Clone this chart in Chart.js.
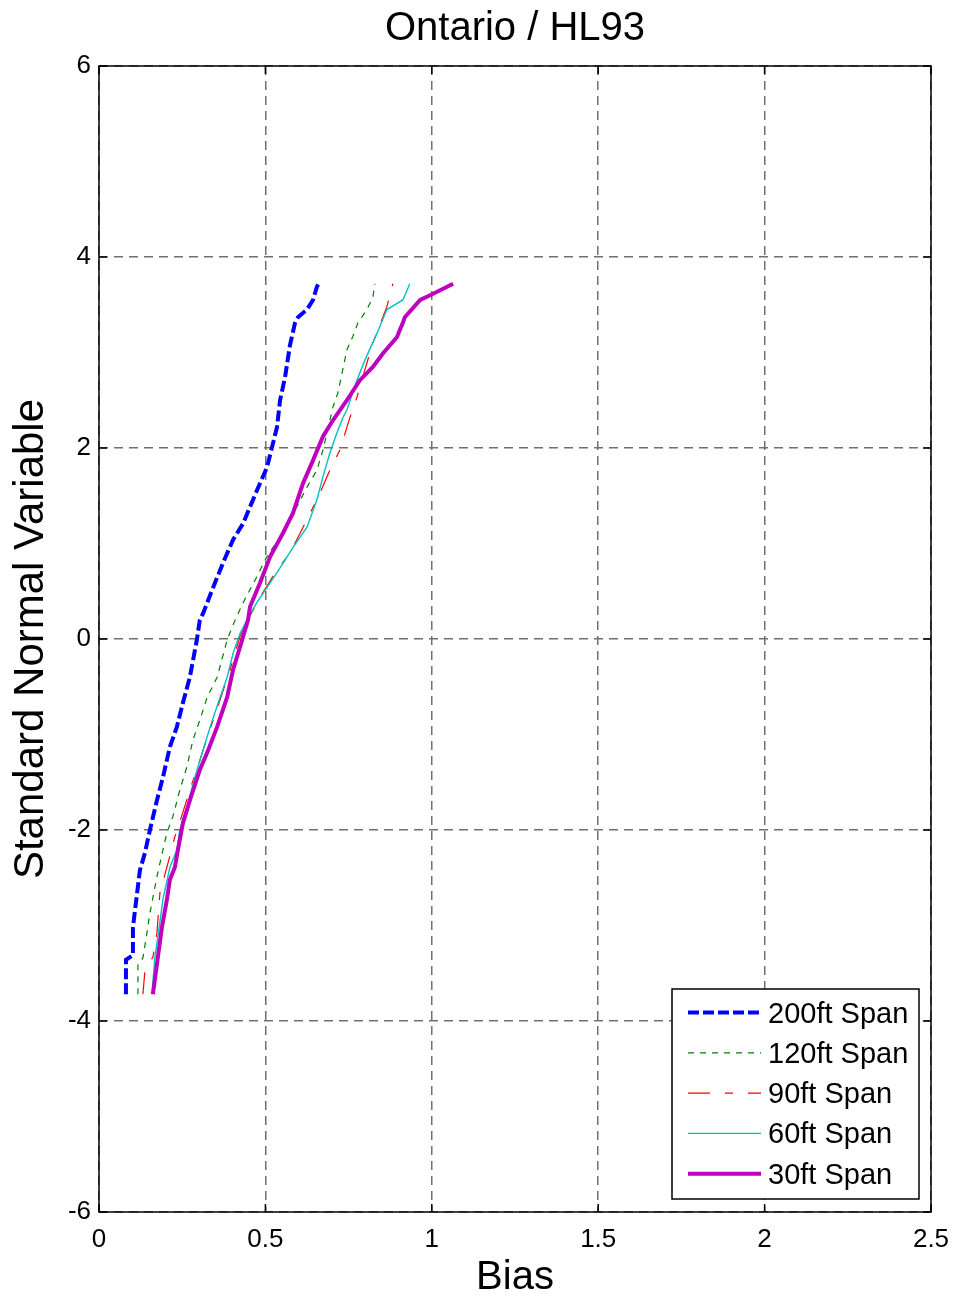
<!doctype html>
<html lang="en">
  <head>
    <meta charset="utf-8">
    <title>Ontario / HL93</title>
    <style>
      * {
        margin: 0;
        padding: 0;
      }
      body {
        background: #fff;
      }
    </style>
  </head>
  <body>
    <canvas id="myChart" width="956" height="1302"></canvas>
    <script src="https://cdn.jsdelivr.net/npm/chart.js/dist/chart.umd.min.js"></script>
    <script>
    // setup
    const xTicks = [0, 0.5, 1, 1.5, 2, 2.5];
    const yTicks = [-6, -4, -2, 0, 2, 4, 6];

    const labels = ['200ft Span', '120ft Span', '90ft Span', '60ft Span', '30ft Span'];

    // bias (x) vs standard normal variable (y), one pair of arrays per span
    const bias200 = [0.081, 0.081, 0.102, 0.102, 0.111, 0.123, 0.138, 0.153, 0.174, 0.192, 0.213, 0.234, 0.252, 0.273, 0.294, 0.303, 0.313, 0.343, 0.373, 0.403, 0.433, 0.475, 0.505, 0.520, 0.535, 0.544, 0.559, 0.574, 0.589, 0.598, 0.625, 0.643, 0.655, 0.660];
    const snv200  = [-3.72, -3.36, -3.31, -3.02, -2.76, -2.42, -2.24, -2.00, -1.69, -1.45, -1.13, -0.92, -0.67, -0.40, -0.01, 0.20, 0.27, 0.54, 0.80, 1.04, 1.21, 1.56, 1.80, 2.01, 2.22, 2.50, 2.74, 3.08, 3.31, 3.37, 3.45, 3.55, 3.69, 3.72];

    const bias120 = [0.117, 0.117, 0.132, 0.144, 0.153, 0.174, 0.192, 0.204, 0.222, 0.243, 0.264, 0.282, 0.303, 0.325, 0.355, 0.385, 0.403, 0.433, 0.474, 0.504, 0.544, 0.574, 0.625, 0.655, 0.673, 0.703, 0.718, 0.745, 0.763, 0.778, 0.805, 0.823, 0.829];
    const snv120  = [-3.72, -3.41, -3.34, -3.08, -2.87, -2.49, -2.21, -2.03, -1.86, -1.58, -1.34, -1.06, -0.85, -0.61, -0.40, -0.01, 0.15, 0.38, 0.65, 0.86, 1.07, 1.25, 1.59, 1.77, 1.98, 2.43, 2.58, 3.03, 3.17, 3.31, 3.45, 3.58, 3.72];

    const bias90 = [0.132, 0.138, 0.162, 0.174, 0.183, 0.207, 0.228, 0.248, 0.273, 0.303, 0.329, 0.354, 0.394, 0.424, 0.474, 0.534, 0.574, 0.625, 0.664, 0.694, 0.724, 0.754, 0.775, 0.799, 0.823, 0.865, 0.883];
    const snv90  = [-3.72, -3.47, -3.33, -3.08, -2.66, -2.35, -2.07, -1.86, -1.58, -1.27, -0.99, -0.74, -0.32, 0.03, 0.38, 0.72, 0.90, 1.25, 1.53, 1.77, 1.98, 2.32, 2.53, 2.82, 3.10, 3.48, 3.72];

    const bias60 = [0.159, 0.168, 0.177, 0.192, 0.213, 0.234, 0.243, 0.264, 0.288, 0.313, 0.334, 0.358, 0.385, 0.403, 0.424, 0.445, 0.474, 0.534, 0.583, 0.625, 0.655, 0.673, 0.694, 0.715, 0.733, 0.745, 0.775, 0.799, 0.835, 0.865, 0.913, 0.934];
    const snv60  = [-3.72, -3.33, -3.12, -2.73, -2.39, -2.21, -2.00, -1.76, -1.45, -1.16, -0.92, -0.67, -0.40, -0.15, 0.06, 0.20, 0.38, 0.69, 0.96, 1.17, 1.46, 1.70, 1.95, 2.16, 2.32, 2.40, 2.71, 2.92, 3.20, 3.45, 3.55, 3.72];

    const bias30 = [0.162, 0.177, 0.189, 0.204, 0.213, 0.228, 0.237, 0.252, 0.273, 0.303, 0.325, 0.355, 0.385, 0.403, 0.424, 0.448, 0.454, 0.484, 0.514, 0.553, 0.583, 0.613, 0.643, 0.673, 0.703, 0.745, 0.784, 0.823, 0.853, 0.895, 0.913, 0.919, 0.965, 0.995, 1.064];
    const snv30  = [-3.72, -3.33, -3.02, -2.73, -2.52, -2.39, -2.21, -1.93, -1.69, -1.37, -1.19, -0.92, -0.61, -0.32, -0.08, 0.20, 0.34, 0.59, 0.86, 1.11, 1.32, 1.63, 1.87, 2.12, 2.29, 2.50, 2.71, 2.85, 2.99, 3.16, 3.31, 3.37, 3.55, 3.60, 3.72];

    const pts = (xs, ys) => xs.map((v, i) => ({ x: v, y: ys[i] }));

    const FONT = '"Liberation Sans", Arial, sans-serif';
    Chart.defaults.font.family = FONT;
    Chart.defaults.color = '#000';

    const data = {
      datasets: [
        { label: labels[0], data: pts(bias200, snv200), borderColor: '#0000ff', borderWidth: 4, borderDash: [11, 4], order: 4 },
        { label: labels[1], data: pts(bias120, snv120), borderColor: '#008000', borderWidth: 1.2, borderDash: [6, 6], order: 3 },
        { label: labels[2], data: pts(bias90, snv90), borderColor: '#ff0000', borderWidth: 1.2, borderDash: [22, 15, 8, 15], order: 2 },
        { label: labels[3], data: pts(bias60, snv60), borderColor: '#00c0c0', borderWidth: 1.4, order: 1 },
        { label: labels[4], data: pts(bias30, snv30), borderColor: '#bf00bf', borderWidth: 4, order: 0 }
      ]
    };

    // axes box with inward tick marks
    const frame = {
      id: 'frame',
      afterDatasetsDraw(chart) {
        const { ctx, chartArea: a, scales: { x, y } } = chart;
        ctx.save();
        ctx.strokeStyle = '#000';
        ctx.lineWidth = 1.5;
        ctx.setLineDash([]);
        ctx.strokeRect(a.left, a.top, a.width, a.height);
        ctx.beginPath();
        xTicks.forEach(v => {
          const px = x.getPixelForValue(v);
          ctx.moveTo(px, a.bottom); ctx.lineTo(px, a.bottom - 8);
          ctx.moveTo(px, a.top); ctx.lineTo(px, a.top + 8);
        });
        yTicks.forEach(v => {
          const py = y.getPixelForValue(v);
          ctx.moveTo(a.left, py); ctx.lineTo(a.left + 8, py);
          ctx.moveTo(a.right, py); ctx.lineTo(a.right - 8, py);
        });
        ctx.stroke();
        ctx.restore();
      }
    };

    // legend boxed in the lower right corner of the plot
    const boxLegend = {
      id: 'boxLegend',
      afterDraw(chart) {
        const { ctx, chartArea: a } = chart;
        const w = 247, h = 210, rowH = 40.3;
        const left = a.right - 12 - w, top = a.bottom - 13 - h;
        ctx.save();
        ctx.fillStyle = '#fff';
        ctx.fillRect(left, top, w, h);
        ctx.strokeStyle = '#000';
        ctx.lineWidth = 1.5;
        ctx.setLineDash([]);
        ctx.strokeRect(left, top, w, h);
        ctx.font = '29px ' + FONT;
        ctx.textBaseline = 'middle';
        chart.data.datasets.forEach((ds, i) => {
          const cy = top + 23.5 + i * rowH;
          ctx.strokeStyle = ds.borderColor;
          ctx.lineWidth = ds.borderWidth;
          ctx.setLineDash(ds.borderDash || []);
          ctx.beginPath();
          ctx.moveTo(left + 16, cy);
          ctx.lineTo(left + 89, cy);
          ctx.stroke();
          ctx.fillStyle = '#000';
          ctx.fillText(ds.label, left + 96, cy + 2);
        });
        ctx.restore();
      }
    };

    const gridStyle = { color: '#707070', lineWidth: 1.5, drawTicks: false };
    const borderStyle = { display: false, dash: [9, 6] };

    // config
    const config = {
      type: 'scatter',
      data,
      options: {
        responsive: false,
        animation: false,
        showLine: true,
        elements: {
          point: { radius: 0, hoverRadius: 0 },
          line: { tension: 0, fill: false }
        },
        layout: { padding: { left: 0, right: 25, top: 0, bottom: 0 } },
        plugins: {
          legend: { display: false },
          tooltip: { enabled: false },
          title: {
            display: true,
            text: 'Ontario / HL93',
            fullSize: false,
            color: '#000',
            font: { size: 40, weight: 'normal' },
            padding: { top: 5, bottom: 13 }
          }
        },
        scales: {
          x: {
            type: 'linear',
            min: 0,
            max: 2.5,
            afterBuildTicks: s => { s.ticks = xTicks.map(v => ({ value: v })); },
            afterFit: s => { s.height = 90; s.paddingLeft = 0; s.paddingRight = 0; },
            ticks: { font: { size: 26 }, color: '#000', padding: 12, maxRotation: 0, callback: v => String(v) },
            grid: gridStyle,
            border: borderStyle,
            title: { display: true, text: 'Bias', color: '#000', font: { size: 40 }, padding: { top: 0, bottom: 0 } }
          },
          y: {
            type: 'linear',
            min: -6,
            max: 6,
            afterBuildTicks: s => { s.ticks = yTicks.map(v => ({ value: v })); },
            afterFit: s => { s.width = 99; },
            ticks: { font: { size: 26 }, color: '#000', padding: 8, callback: v => String(v) },
            grid: gridStyle,
            border: borderStyle,
            title: { display: true, text: 'Standard Normal Variable', color: '#000', font: { size: 42 }, padding: { top: 6, bottom: 0 } }
          }
        }
      },
      plugins: [frame, boxLegend]
    };

    // render init block
    const myChart = new Chart(document.getElementById('myChart'), config);
    </script>
  </body>
</html>
